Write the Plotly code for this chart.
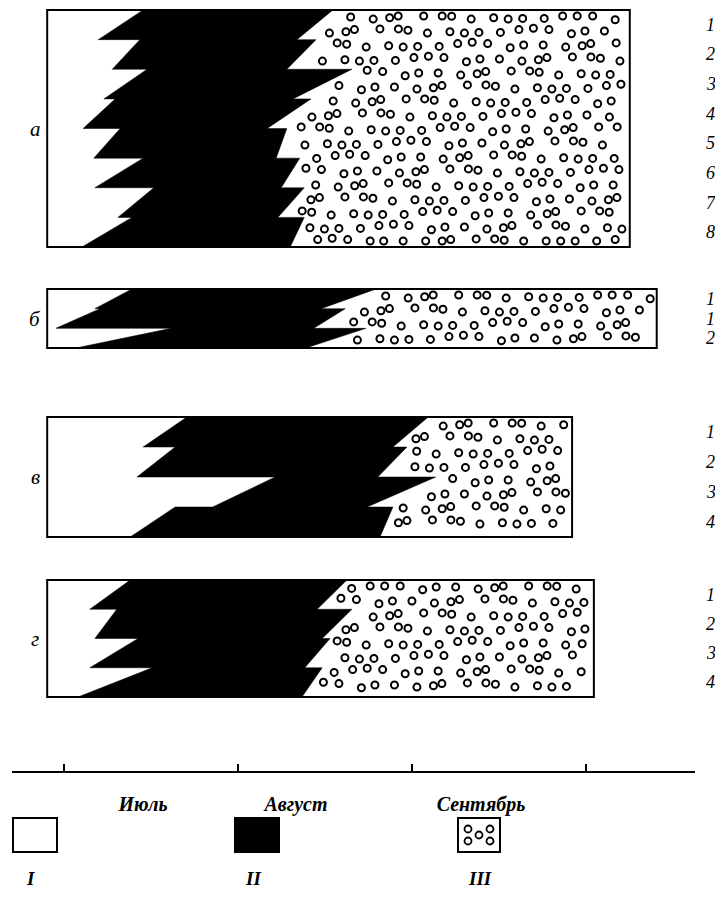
import numpy as np
import plotly.graph_objects as go

# ---------------- data ----------------
# season day numbers: 0 = 1 July, 31 = 1 August, 62 = 1 September, 92 = 1 October
month_start_day = [-30, 0, 31, 62, 92, 123]
month_index = [-1, 0, 1, 2, 3, 4]
month_names = ["Июль", "Август", "Сентябрь"]

panel_letters = ["а", "б", "в", "г"]
row_labels = [
    ["1", "2", "3", "4", "5", "6", "7", "8"],
    ["1", "1", "2"],
    ["1", "2", "3", "4"],
    ["1", "2", "3", "4"],
]
legend_labels = ["I", "II", "III"]

# observation period of every panel (day numbers)
obs_start = [-2.9, -2.9, -2.9, -2.9]
obs_end = [99.8, 104.6, 89.6, 93.4]

# onset of phase II (white -> black) at the top and at the bottom of each row
II_top = [
    [14.1, 13.5, 14.8, 9.1, 10.0, 14.1, 16.0, 12.1],
    [12.1, 6.4, 19.1],
    [21.9, 19.8, 37.6, 19.8],
    [11.8, 9.4, 13.2, 15.7],
]
II_bot = [
    [6.1, 8.6, 7.1, 3.4, 5.3, 5.5, 9.6, 3.2],
    [5.5, -1.4, 2.1],
    [14.1, 13.0, 26.5, 11.8],
    [4.6, 5.5, 4.6, 2.5],
]
# onset of phase III (black -> dotted) at the top and at the bottom of each row
III_top = [
    [47.9, 44.9, 51.3, 44.0, 39.7, 42.0, 42.8, 42.8],
    [55.6, 50.1, 53.8],
    [64.8, 61.1, 66.1, 58.6],
    [50.4, 51.3, 47.4, 46.0],
]
III_bot = [
    [41.5, 39.7, 40.8, 36.2, 37.8, 38.7, 38.1, 40.3],
    [45.8, 44.5, 43.1],
    [58.6, 55.9, 54.0, 56.3],
    [45.1, 46.0, 42.9, 42.4],
]

# ---------------- layout (page pixels) ----------------
OFF = 8                              # the page body has an 8 px margin
W, H = 723 - 2 * OFF, 899 - 2 * OFF  # figure size that avoids page scrollbars
panel_top = [10, 289, 417, 580]
panel_bot = [247, 348, 537, 697]
AXIS_Y = 771
X0_PX, PX_PER_MONTH = 64, 174
AX_L, AX_R = 12, 695
FONT = "Liberation Serif"


def to_x(day):
    return np.interp(day, month_start_day, month_index)


def px_to_x(px):
    return (px - X0_PX) / PX_PER_MONTH


def paper_x(px):
    return (px - OFF) / W


def paper_y(px):
    return 1 - (px - OFF) / H


fig = go.Figure()

# texture offsets for the ring pattern of phase III
JIT = [(0, 0), (4, -3), (-3, 2), (2, 4), (-5, -2), (3, 1), (-1, -4), (5, 3),
       (-4, -1), (1, 2), (-2, 0), (3, -3), (0, 3), (-3, -2), (4, 1), (-2, 3), (2, -2)]
DX, DY = 17.5, 14.0

annotations = []
shapes = []


def boundary_px(p, Y, top, pitch, n):
    r = (Y - top) / pitch
    i = min(max(int(r), 0), n - 1)
    f = min(max(r - i, 0.0), 1.0)
    xb = to_x(III_top[p][i]) + (to_x(III_bot[p][i]) - to_x(III_top[p][i])) * f
    return X0_PX + PX_PER_MONTH * xb


for p in range(4):
    top, bot = panel_top[p], panel_bot[p]
    n = len(row_labels[p])
    pitch = (bot - top) / n
    row_y = [top + i * pitch for i in range(n + 1)]

    # black polygon (phase II)
    xs, ys = [], []
    for i in range(n):
        xs += [to_x(II_top[p][i]), to_x(II_bot[p][i])]
        ys += [row_y[i], row_y[i + 1]]
    for i in reversed(range(n)):
        xs += [to_x(III_bot[p][i]), to_x(III_top[p][i])]
        ys += [row_y[i + 1], row_y[i]]
    fig.add_trace(go.Scatter(x=xs, y=ys, fill="toself", fillcolor="black",
                             mode="lines", line=dict(color="black", width=0.5),
                             hoverinfo="skip", showlegend=False))

    # ring texture (phase III)
    right_px = X0_PX + PX_PER_MONTH * to_x(obs_end[p])
    left_px = X0_PX + PX_PER_MONTH * to_x(obs_start[p])
    rx, ry = [], []
    j = 0
    yy = top + 7
    while yy < bot - 3:
        off = (j % 2) * DX / 2
        k = 0
        px = left_px + 6 + off
        while px < right_px:
            jx, jy = JIT[(k * 7 + j * 4 + p * 3) % len(JIT)]
            X = px + jx
            Y = min(max(yy + jy * 0.7, top + 6), bot - 6)
            xb = max(boundary_px(p, Y + dy, top, pitch, n) for dy in (-4.5, -2, 0, 2, 4.5))
            if X > xb + 6.5 and X < right_px - 6:
                rx.append(px_to_x(X))
                ry.append(Y)
            px += DX
            k += 1
        yy += DY
        j += 1
    fig.add_trace(go.Scatter(x=rx, y=ry, mode="markers",
                             marker=dict(symbol="circle-open", size=7, color="black",
                                         line=dict(width=2, color="black")),
                             hoverinfo="skip", showlegend=False))

    # panel frame
    shapes.append(dict(type="rect", xref="x", yref="y",
                       x0=to_x(obs_start[p]), x1=to_x(obs_end[p]), y0=top, y1=bot,
                       line=dict(color="black", width=2), layer="above"))

    # panel letter
    annotations.append(dict(x=paper_x(35), xref="paper", y=(top + bot) / 2, yref="y",
                            text="<i>" + panel_letters[p] + "</i>", showarrow=False,
                            font=dict(family=FONT, size=21, color="black"),
                            xanchor="center", yanchor="middle"))
    # row numbers
    for i, lab in enumerate(row_labels[p]):
        annotations.append(dict(x=paper_x(710.5), xref="paper", y=(row_y[i] + row_y[i + 1]) / 2, yref="y",
                                text="<i>" + lab + "</i>", showarrow=False,
                                font=dict(family=FONT, size=18, color="black"),
                                xanchor="center", yanchor="middle"))

# ---------------- legend ----------------
leg_x = [(13, 57), (235, 279), (458, 500)]
leg_y0, leg_y1 = 818, 852
leg_fill = ["white", "black", "white"]
leg_label_x = [30, 253, 480]

for (a, b), fc, lab, lx in zip(leg_x, leg_fill, legend_labels, leg_label_x):
    shapes.append(dict(type="rect", xref="paper", yref="paper",
                       x0=paper_x(a), x1=paper_x(b), y0=paper_y(leg_y0), y1=paper_y(leg_y1),
                       line=dict(color="black", width=2), fillcolor=fc))
    annotations.append(dict(x=paper_x(lx), xref="paper", y=paper_y(878), yref="paper",
                            text="<b><i>" + lab + "</i></b>", showarrow=False,
                            font=dict(family=FONT, size=19, color="black"),
                            xanchor="center", yanchor="middle"))
for cx, cy in [(468, 829), (468, 841), (479, 835), (490, 829), (490, 841)]:
    shapes.append(dict(type="circle", xref="paper", yref="paper",
                       x0=paper_x(cx - 3.5), x1=paper_x(cx + 3.5),
                       y0=paper_y(cy - 3.5), y1=paper_y(cy + 3.5),
                       line=dict(color="black", width=1.8)))

fig.update_layout(
    width=W, height=H,
    margin=dict(l=0, r=0, t=0, b=0),
    paper_bgcolor="white", plot_bgcolor="white",
    showlegend=False,
    shapes=shapes, annotations=annotations,
    xaxis=dict(domain=[paper_x(AX_L), paper_x(AX_R)],
               range=[px_to_x(AX_L), px_to_x(AX_R)],
               showgrid=False, zeroline=False,
               showline=True, linecolor="black", linewidth=2,
               tickmode="array", tickvals=[px_to_x(143), px_to_x(296), px_to_x(481)],
               ticktext=["<b><i>" + m + "</i></b>" for m in month_names],
               ticks="", ticklabelstandoff=14,
               tickfont=dict(family=FONT, size=20, color="black"),
               minor=dict(tickmode="array", tickvals=month_index[1:5], ticks="inside",
                          ticklen=7, tickwidth=1.5, tickcolor="black", showgrid=False)),
    yaxis=dict(domain=[paper_y(AXIS_Y), 1], range=[AXIS_Y, OFF], visible=False),
)

fig.write_html("out.html")
